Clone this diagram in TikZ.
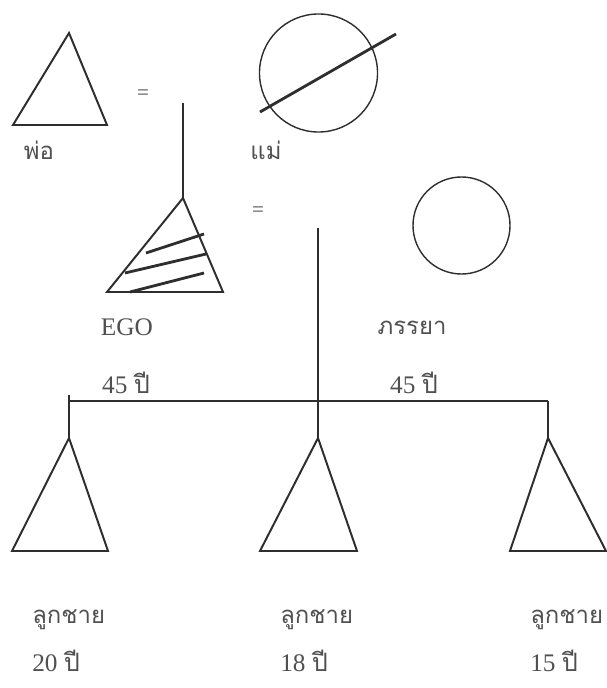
\documentclass[tikz,border=0pt]{standalone}
\usepackage{fontspec}
\setmainfont{Liberation Serif}
\newfontfamily\thaifont[Script=Thai]{Loma}
\usepackage{tikz}
\usetikzlibrary{calc}
\definecolor{inkGray}{HTML}{2E2E2E}
\definecolor{textGray}{HTML}{505050}

\begin{document}
\begin{tikzpicture}[x=0.025cm, y=-0.025cm,
    tri/.style={draw=inkGray, line width=1.4pt, line join=miter},
    kin/.style={draw=inkGray, line width=0.9pt},
    hatch/.style={draw=inkGray, line width=2pt},
    lbl/.style={font=\fontsize{18}{20}\selectfont, text=textGray, inner sep=0pt},
    tlbl/.style={font=\thaifont\fontsize{17}{20}\selectfont, text=textGray, inner sep=0pt},
    eqsign/.style={font=\fontsize{15}{17}\selectfont, text=textGray, inner sep=0pt}
  ]
  \useasboundingbox (0,0) rectangle (606,688);
  % parents
  \coordinate (fa) at (69,33);
  \draw[tri] (fa) -- (13,125) -- (107,125) -- cycle;
  \node[tlbl] (lfa) at (39,150) {พ่อ};
  \node[eqsign] (eq1) at (143,95) {=};
  \node[circle, draw=inkGray, line width=1pt, minimum size=2.95cm, inner sep=0pt, outer sep=0pt] (mo) at (318.5,73) {};
  \draw[hatch] ($(mo.center)+(-58.5,39)$) -- ($(mo.center)+(77.5,-39)$);
  \node[tlbl] (lmo) at (266,150) {แม่};
  \coordinate (mp) at (183,103);
  % ego and wife
  \coordinate (ego) at (183,198);
  \draw[kin] (mp) -- (ego);
  \draw[tri] (ego) -- (107,292) -- (223,292) -- cycle;
  \draw[hatch] (146,253) -- (204,234);
  \draw[hatch] (125,273) -- (206,254);
  \draw[hatch] (130,292) -- (204,273);
  \node[lbl] (lego) at (127,327) {EGO};
  \node[lbl] (aego) at (126,383) {45 {\thaifont ปี}};
  \node[eqsign] (eq2) at (258,212) {=};
  \node[circle, draw=inkGray, line width=1pt, minimum size=2.425cm, inner sep=0pt, outer sep=0pt] (wi) at (461.5,225.5) {};
  \node[tlbl] (lwi) at (412,328) {ภรรยา};
  \node[lbl] (awi) at (414,383) {45 {\thaifont ปี}};
  % sibling bar
  \coordinate (cp) at (318,228);
  \coordinate (b1) at (69,401);
  \coordinate (b3) at (548,401);
  \draw[kin] (b1) -- (b3);
  \draw[kin] ($(b1)+(0,-6)$) -- (b1);
  % sons
  \foreach \i/\ax/\bl/\br/\age in {1/69/12/108/20, 2/318/260/357/18, 3/548/510/606/15} {
    \coordinate (s\i) at (\ax,438);
    \draw[tri] (s\i) -- (\bl,551) -- (\br,551) -- cycle;
    \node[tlbl, anchor=west] (ls\i) at (\bl+20,620) {ลูกชาย};
    \node[lbl, anchor=west] (la\i) at (\bl+20,661) {\age\ {\thaifont ปี}};
  }
  \draw[kin] (b1) -- (s1);
  \draw[kin] (cp) -- (s2);
  \draw[kin] (b3) -- (s3);
\end{tikzpicture}
\end{document}
